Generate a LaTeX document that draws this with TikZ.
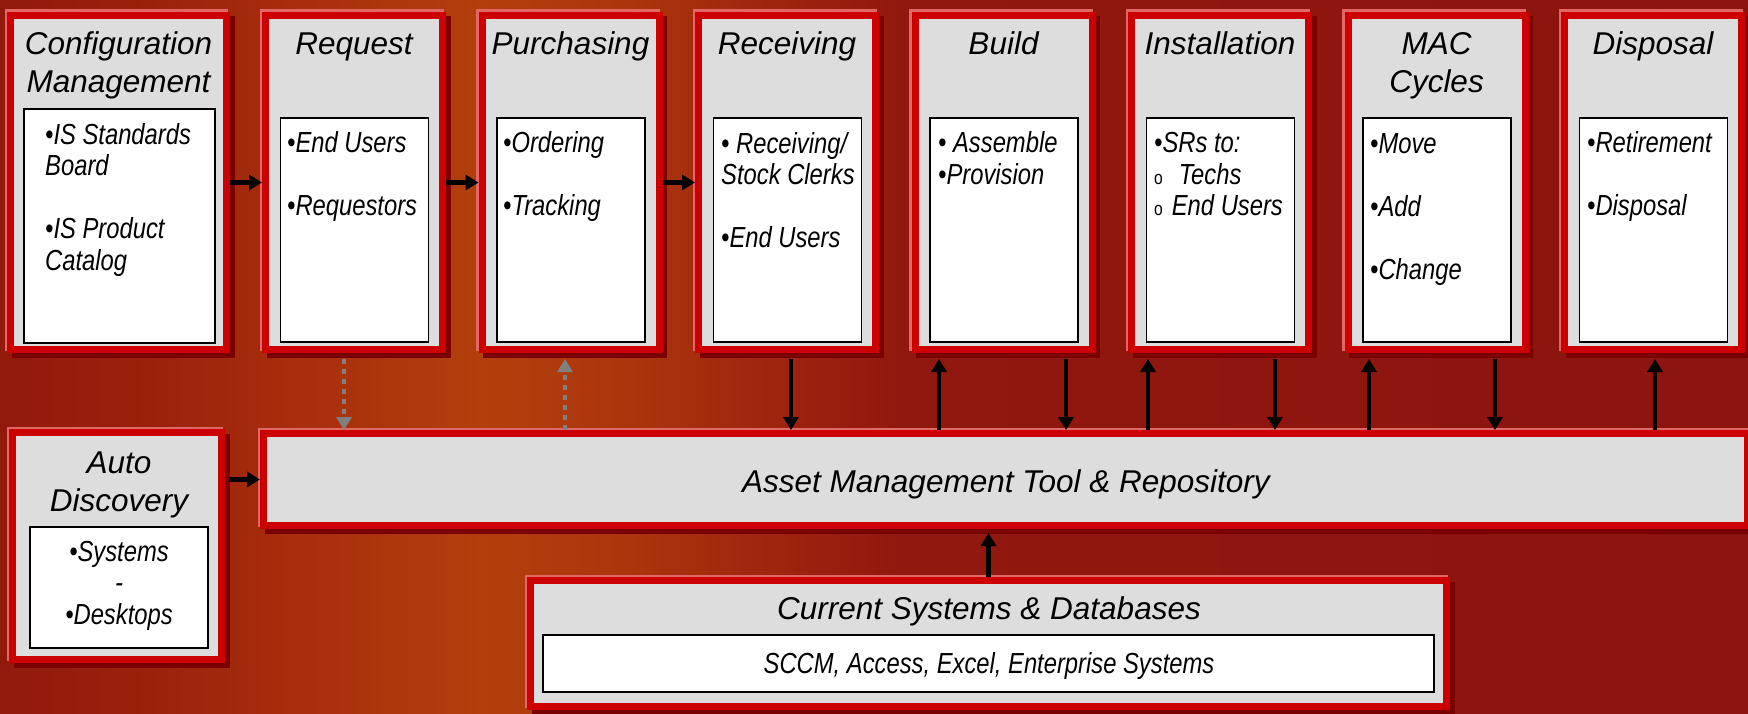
\documentclass[tikz,border=0pt]{standalone}
\usepackage{fontspec}
\setmainfont{Liberation Sans}
\newfontfamily\titlefont{Liberation Sans}
\newfontfamily\narrowfont[FakeStretch=0.82]{Liberation Sans}
\usetikzlibrary{arrows.meta,calc}

\definecolor{framered}{RGB}{204,0,0}
\definecolor{framehi}{RGB}{226,104,104}
\definecolor{frameshadow}{RGB}{122,0,0}
\definecolor{panelgrey}{RGB}{221,221,221}
\definecolor{dotgrey}{RGB}{128,128,128}
\definecolor{bg0}{RGB}{146,26,12}
\definecolor{bg1}{RGB}{155,33,12}
\definecolor{bg2}{RGB}{168,46,12}
\definecolor{bg3}{RGB}{179,63,12}
\definecolor{bg4}{RGB}{172,54,12}
\definecolor{bg5}{RGB}{158,36,14}
\definecolor{bg6}{RGB}{145,24,14}
\definecolor{bg7}{RGB}{140,20,15}

\newcommand\drawframe[1]{%
  \fill[frameshadow] ([shift={(4.5,4.5)}]#1.north west) rectangle ([shift={(4.5,4.5)}]#1.south east);
  \fill[framehi] ([shift={(-2.5,-2.5)}]#1.north west) rectangle ([shift={(-2.5,-2.5)}]#1.south east);
  \fill[framered] (#1.north west) rectangle (#1.south east);
  \fill[panelgrey] ([shift={(7,7)}]#1.north west) rectangle ([shift={(-7,-7)}]#1.south east);
}
\newcommand\subo{{\upshape\fontsize{19}{19}\selectfont o}}

\tikzset{
  panelbox/.style={rectangle, inner sep=0pt, outer sep=0pt, anchor=north west},
  whitebox/.style={rectangle, draw=black, line width=1.6pt, fill=white, inner sep=0pt, outer sep=0pt, anchor=north west},
  ttl/.style={font=\titlefont\itshape\fontsize{31.5}{38}\selectfont, align=center, inner sep=0pt, anchor=base},
  bullets/.style={font=\narrowfont\itshape\fontsize{29}{31.5}\selectfont, align=left, inner sep=0pt, anchor=base west},
  cbullets/.style={font=\narrowfont\itshape\fontsize{29}{31.5}\selectfont, align=center, inner sep=0pt, anchor=base},
  arr/.style={draw=black, line width=4.5pt, -{Triangle[length=13pt,width=15pt]}},
  dotarr/.style={draw=dotgrey, line width=4.5pt, dash pattern=on 5pt off 5pt, -{Triangle[length=13pt,width=15pt]}}
}

\begin{document}
\begin{tikzpicture}[x=1pt,y=-1pt]
\useasboundingbox (0,0) rectangle (1748,714);
% background
\shade[left color=bg0,right color=bg1] (0,0) rectangle (151,714);
\shade[left color=bg1,right color=bg2] (150,0) rectangle (301,714);
\shade[left color=bg2,right color=bg3] (300,0) rectangle (481,714);
\shade[left color=bg3,right color=bg4] (480,0) rectangle (621,714);
\shade[left color=bg4,right color=bg5] (620,0) rectangle (781,714);
\shade[left color=bg5,right color=bg6] (780,0) rectangle (901,714);
\shade[left color=bg6,right color=bg7] (900,0) rectangle (1748,714);

% frame nodes
\node[panelbox, minimum width=223pt, minimum height=341pt] (cfg) at (7,12) {};
\node[panelbox, minimum width=184pt, minimum height=341pt] (req) at (262,12) {};
\node[panelbox, minimum width=184pt, minimum height=341pt] (pur) at (478.5,12) {};
\node[panelbox, minimum width=184pt, minimum height=341pt] (rcv) at (695,12) {};
\node[panelbox, minimum width=184pt, minimum height=341pt] (bld) at (911.5,12) {};
\node[panelbox, minimum width=184pt, minimum height=341pt] (ins) at (1128,12) {};
\node[panelbox, minimum width=184pt, minimum height=341pt] (mac) at (1344.5,12) {};
\node[panelbox, minimum width=184pt, minimum height=341pt] (dsp) at (1561,12) {};
\node[panelbox, minimum width=216pt, minimum height=234pt] (autod) at (9,429) {};
\node[panelbox, minimum width=1491pt, minimum height=99pt] (asset) at (260,430) {};
\node[panelbox, minimum width=923pt, minimum height=133pt] (cur) at (527,577) {};

\drawframe{cfg}
\drawframe{req}
\drawframe{pur}
\drawframe{rcv}
\drawframe{bld}
\drawframe{ins}
\drawframe{mac}
\drawframe{dsp}
\drawframe{autod}
\drawframe{asset}
\drawframe{cur}

% white inner boxes
\node[whitebox, minimum width=191pt, minimum height=234pt] (cfgw) at (24,109) {};
\node[whitebox, minimum width=148pt, minimum height=224pt] (reqw) at (280.5,118) {};
\node[whitebox, minimum width=148pt, minimum height=224pt] (purw) at (497,118) {};
\node[whitebox, minimum width=148pt, minimum height=224pt] (rcvw) at (713.5,118) {};
\node[whitebox, minimum width=148pt, minimum height=224pt] (bldw) at (930,118) {};
\node[whitebox, minimum width=148pt, minimum height=224pt] (insw) at (1146.5,118) {};
\node[whitebox, minimum width=148pt, minimum height=224pt] (macw) at (1363,118) {};
\node[whitebox, minimum width=148pt, minimum height=224pt] (dspw) at (1579.5,118) {};
\node[whitebox, minimum width=178pt, minimum height=121pt] (autow) at (30,527) {};
\node[whitebox, minimum width=891pt, minimum height=57pt] (curw) at (543,635) {};

% titles (base anchor = baseline of the last line)
\node[ttl] (cfgt) at (118.5,93) {Configuration\\Management};
\node[ttl] (reqt) at (354,55) {Request};
\node[ttl] (purt) at (570.5,55) {Purchasing};
\node[ttl] (rcvt) at (787,55) {Receiving};
\node[ttl] (bldt) at (1003.5,55) {Build};
\node[ttl] (inst) at (1220,55) {Installation};
\node[ttl] (mact) at (1436.5,93) {MAC\\Cycles};
\node[ttl] (dspt) at (1653,55) {Disposal};
\node[ttl] (autot) at (119,511) {Auto\\Discovery};
\node[ttl] (assett) at (1006,492) {Asset Management Tool \& Repository};
\node[ttl] (curt) at (989,619) {Current Systems \& Databases};

% bullet texts (base anchor = baseline of the last line)
\node[bullets] (cfgb) at (45,270) {•IS Standards\\Board\\[31.5pt]•IS Product\\Catalog};
\node[bullets] (reqb) at (287,216) {•End Users\\[31.5pt]•Requestors};
\node[bullets] (purb) at (503,216) {•Ordering\\[31.5pt]•Tracking};
\node[bullets] (rcvb) at (721,247.5) {• Receiving/\\Stock Clerks\\[31.5pt]•End Users};
\node[bullets] (bldb) at (938,184.5) {• Assemble\\•Provision};
\node[bullets] (insb) at (1154,216) {•SRs to:\\\subo\hspace{16pt}Techs\\\subo\hspace{9pt}End Users};
\node[bullets] (macb) at (1370,279) {•Move\\[31.5pt]•Add\\[31.5pt]•Change};
\node[bullets] (dspb) at (1587,216) {•Retirement\\[31.5pt]•Disposal};
\node[cbullets] (autob) at (119,624) {•Systems\\-\\•Desktops};
\node[cbullets] (curb) at (989,673) {SCCM, Access, Excel, Enterprise Systems};

% horizontal arrows
\draw[arr] (cfg.east) -- (req.west);
\draw[arr] (req.east) -- (pur.west);
\draw[arr] (pur.east) -- (rcv.west);
\draw[arr] ($(autod.east |- asset.west)+(4,0)$) -- (asset.west);

% dotted arrows
\draw[dotarr] ($(req.south)+(-10,6)$) -- ($(req.south |- asset.north)+(-10,0)$);
\draw[dotarr] ($(pur.south |- asset.north)+(-5.5,0)$) -- ($(pur.south)+(-5.5,6)$);

% vertical arrows
\draw[arr] ($(rcv.south)+(4,6)$) -- ($(rcv.south |- asset.north)+(4,0)$);
\draw[arr] ($(bld.south west |- asset.north)+(27.5,0)$) -- ($(bld.south west)+(27.5,6)$);
\draw[arr] ($(bld.south east)+(-29.5,6)$) -- ($(bld.south east |- asset.north)+(-29.5,0)$);
\draw[arr] ($(ins.south west |- asset.north)+(20,0)$) -- ($(ins.south west)+(20,6)$);
\draw[arr] ($(ins.south east)+(-37,6)$) -- ($(ins.south east |- asset.north)+(-37,0)$);
\draw[arr] ($(mac.south west |- asset.north)+(24.5,0)$) -- ($(mac.south west)+(24.5,6)$);
\draw[arr] ($(mac.south east)+(-33.5,6)$) -- ($(mac.south east |- asset.north)+(-33.5,0)$);
\draw[arr] ($(dsp.south |- asset.north)+(2,0)$) -- ($(dsp.south)+(2,6)$);
\draw[arr] (cur.north) -- ($(cur.north |- asset.south)+(0,4)$);
\end{tikzpicture}
\end{document}
